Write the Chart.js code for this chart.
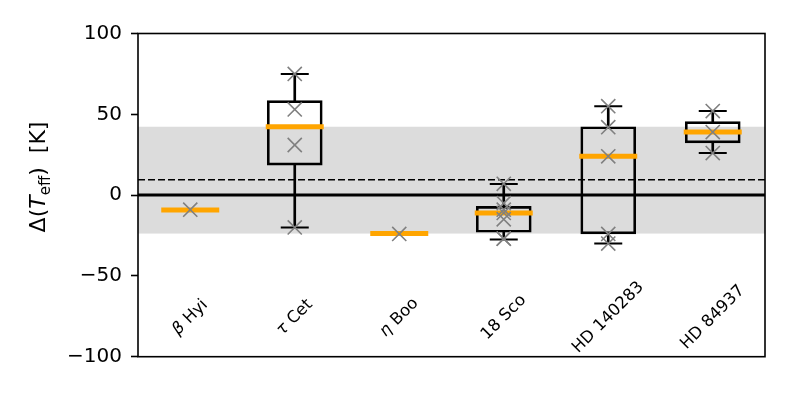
<!DOCTYPE html>
<html>
<head>
<meta charset="utf-8">
<script src="https://cdn.jsdelivr.net/npm/chart.js@4.4.0/dist/chart.umd.min.js"></script>
<style>
    html, body { margin: 0; padding: 0; background: #fff; overflow: hidden; }
    #wrap { width: 789px; height: 395px; }
</style>
</head>
<body>
<div id="wrap"><canvas id="chartTeff"></canvas></div>
<script>
const stars = ["β Hyi", "τ Cet", "η Boo", "18 Sco", "HD 140283", "HD 84937"];

// individual measurements (grey crosses)
const ptsBetaHyi = [-9];
const ptsTauCet = [75, 53, 31, -20];
const ptsEtaBoo = [-24];
const pts18Sco = [7, -5, -9, -11, -15, -27, -27];
const ptsHD140283 = [55, 42, 24, -24, -30];
const ptsHD84937 = [52, 39, 26];
const samples = [ptsBetaHyi, ptsTauCet, ptsEtaBoo, pts18Sco, ptsHD140283, ptsHD84937];

// box statistics (null = single value, no box)
const whiskerLow  = [null, -20,  null, -27.5, -30,  26];
const quart1      = [null, 18.5, null, -23,   -24,  32.3];
const medians     = [-9.2, 42.3, -23.8, -11,  24,   39];
const quart3      = [null, 58.5, null, -7,    42.3, 45.5];
const whiskerHigh = [null, 75,   null, 6.8,   55,   52];

// shaded range of the medians and the dashed mean
const bandLow = -23.8;
const bandHigh = 42.3;
const meanLine = 9.5;

const yTicks = [-100, -50, 0, 50, 100];

const FONT = "DejaVu Sans";

const decor = {
    id: "decor",
    beforeDatasetsDraw(chart) {
        const { ctx, chartArea: a } = chart;
        const y = chart.scales.y;
        ctx.save();
        ctx.fillStyle = "#dcdcdc";
        const t = y.getPixelForValue(bandHigh), b = y.getPixelForValue(bandLow);
        ctx.fillRect(a.left, t, a.right - a.left, b - t);

        ctx.strokeStyle = "#000";
        ctx.lineWidth = 1.6;
        ctx.setLineDash([7, 3]);
        let p = y.getPixelForValue(meanLine);
        ctx.beginPath(); ctx.moveTo(a.left, p); ctx.lineTo(a.right, p); ctx.stroke();

        ctx.setLineDash([]);
        ctx.lineWidth = 3;
        p = y.getPixelForValue(0);
        ctx.beginPath(); ctx.moveTo(a.left, p); ctx.lineTo(a.right, p); ctx.stroke();
        ctx.restore();
    },
    afterDraw(chart) {
        const { ctx, chartArea: a } = chart;
        const x = chart.scales.x, y = chart.scales.y;
        ctx.save();
        ctx.strokeStyle = "#000";
        ctx.lineWidth = 1.6;
        ctx.strokeRect(a.left, a.top, a.right - a.left, a.bottom - a.top);

        // star names, rotated, inside the axes
        ctx.fillStyle = "#000";
        ctx.textBaseline = "middle";
        ctx.textAlign = "left";
        const ly = y.getPixelForValue(-75.7);
        stars.forEach((s, i) => {
            const greek = /^[\u0370-\u03ff]/.test(s) ? s[0] : "";
            const rest = s.slice(greek.length);
            ctx.font = "italic 16.5px " + FONT;
            const wg = greek ? ctx.measureText(greek).width : 0;
            ctx.font = "16.5px " + FONT;
            const wr = ctx.measureText(rest).width;
            ctx.save();
            ctx.translate(x.getPixelForValue(i), ly);
            ctx.rotate(-Math.PI / 4);
            let cx = -(wg + wr) / 2;
            if (greek) {
                ctx.font = "italic 16.5px " + FONT;
                ctx.fillText(greek, cx, 0);
                cx += wg;
            }
            ctx.font = "16.5px " + FONT;
            ctx.fillText(rest, cx, 0);
            ctx.restore();
        });

        // y title: Δ(T_eff)  [K]
        const parts = [
            ["Δ(", "22px ", 0],
            ["T", "italic 22px ", 0],
            ["eff", "15px ", 5],
            [")  [K]", "22px ", 0]
        ];
        let total = 0;
        parts.forEach(pt => { ctx.font = pt[1] + FONT; total += ctx.measureText(pt[0]).width; });
        ctx.translate(45, 177);
        ctx.rotate(-Math.PI / 2);
        ctx.textBaseline = "alphabetic";
        let cx = -total / 2;
        parts.forEach(pt => {
            ctx.font = pt[1] + FONT;
            ctx.fillText(pt[0], cx, pt[2]);
            cx += ctx.measureText(pt[0]).width;
        });
        ctx.restore();
    }
};

const crossData = samples.flatMap((arr, i) => arr.map(v => ({ x: stars[i], y: v })));

new Chart(document.getElementById("chartTeff"), {
    type: "bar",
    data: {
        labels: stars,
        datasets: [
            {
                type: "line",
                data: crossData,
                showLine: false,
                pointStyle: "crossRot",
                pointRadius: 10,
                pointBorderWidth: 1.6,
                pointBorderColor: "#808080",
                order: 0
            },
            {
                type: "line",
                data: medians,
                showLine: false,
                pointStyle: "line",
                pointRadius: 29,
                pointBorderWidth: 5,
                pointBorderColor: "#ffa500",
                order: 1
            },
            {
                type: "line",
                data: whiskerHigh,
                showLine: false,
                pointStyle: "line",
                pointRadius: 14,
                pointBorderWidth: 2,
                pointBorderColor: "#000",
                order: 2
            },
            {
                type: "line",
                data: whiskerLow,
                showLine: false,
                pointStyle: "line",
                pointRadius: 14,
                pointBorderWidth: 2,
                pointBorderColor: "#000",
                order: 2
            },
            {
                data: stars.map((s, i) => quart3[i] == null ? null : [quart3[i], whiskerHigh[i]]),
                backgroundColor: "#000",
                borderWidth: 0,
                barThickness: 2,
                grouped: false,
                order: 3
            },
            {
                data: stars.map((s, i) => quart1[i] == null ? null : [whiskerLow[i], quart1[i]]),
                backgroundColor: "#000",
                borderWidth: 0,
                barThickness: 2,
                grouped: false,
                order: 3
            },
            {
                data: stars.map((s, i) => quart1[i] == null ? null : [quart1[i], quart3[i]]),
                backgroundColor: "rgba(0,0,0,0)",
                borderColor: "#000",
                borderWidth: 2,
                borderSkipped: false,
                barThickness: 55,
                grouped: false,
                order: 4
            }
        ]
    },
    options: {
        responsive: true,
        maintainAspectRatio: false,
        animation: false,
        events: [],
        layout: { autoPadding: false, padding: { left: 0, top: 33.5, right: 24, bottom: 38.3 } },
        plugins: { legend: { display: false }, tooltip: { enabled: false } },
        scales: {
            x: { display: false, offset: true },
            y: {
                min: -100,
                max: 100,
                afterBuildTicks: s => { s.ticks = yTicks.map(v => ({ value: v })); },
                afterFit: s => { s.width = 138; },
                border: { display: false },
                grid: { drawOnChartArea: false, drawTicks: true, tickLength: 7, tickColor: "#000", tickWidth: 1.6 },
                ticks: {
                    color: "#000",
                    padding: 9,
                    font: { family: FONT, size: 20 },
                    callback: v => String(v).replace("-", "\u2212")
                }
            }
        }
    },
    plugins: [decor]
});
</script>
</body>
</html>
